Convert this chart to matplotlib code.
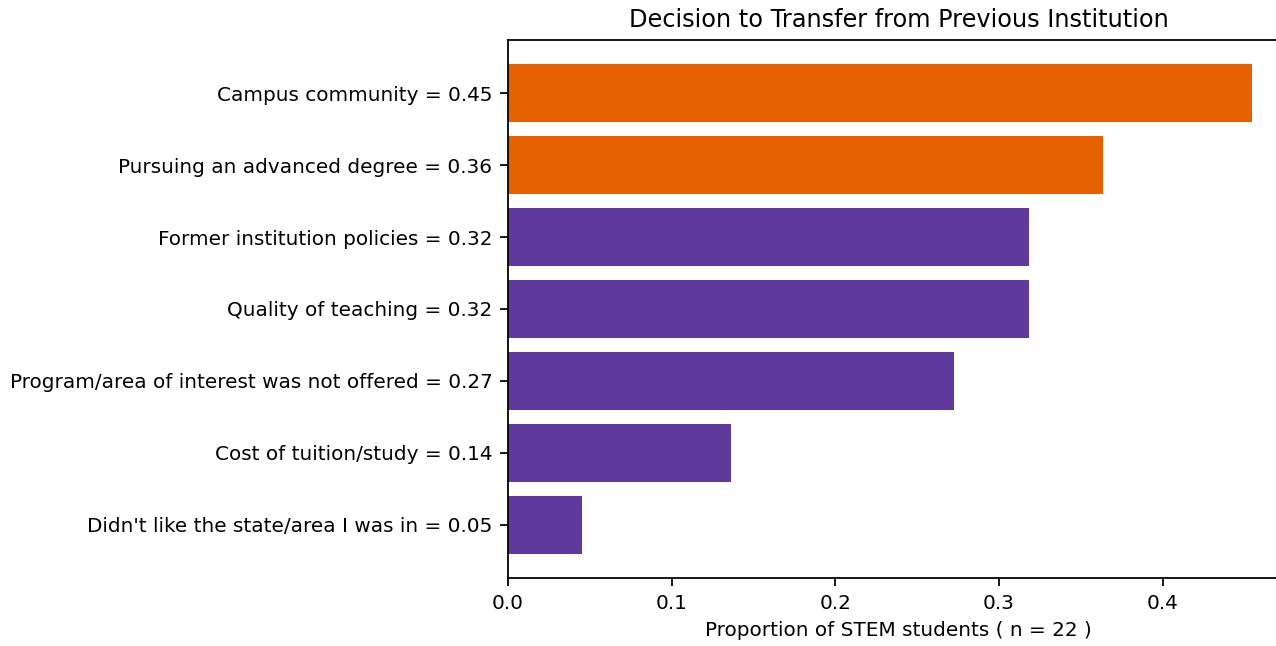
import matplotlib
matplotlib.use('Agg')
import matplotlib.pyplot as plt

n = 22
reasons = ["Didn't like the state/area I was in", 'Cost of tuition/study',
           'Program/area of interest was not offered', 'Quality of teaching',
           'Former institution policies', 'Pursuing an advanced degree',
           'Campus community']
counts = [1, 3, 6, 7, 7, 8, 10]
colors = ['#5D3A9B'] * 5 + ['#E66100'] * 2

props = [c / n for c in counts]
labels = ['{} = {:.2f}'.format(r, p) for r, p in zip(reasons, props)]

plt.rcParams['font.size'] = 9

fig = plt.figure(figsize=(1276 / 160, 646 / 160), dpi=160)
# right edge of the axes runs past the figure, like the cropped original
ax = fig.add_axes([508 / 1276, 1 - 578 / 646, 781 / 1276, 538 / 646])
ax.barh(labels, props, color=colors)
ax.set_title('Decision to Transfer from Previous Institution')
ax.set_xlabel('Proportion of STEM students ( n = {} )'.format(n))

fig.savefig('out.png', dpi=160)
